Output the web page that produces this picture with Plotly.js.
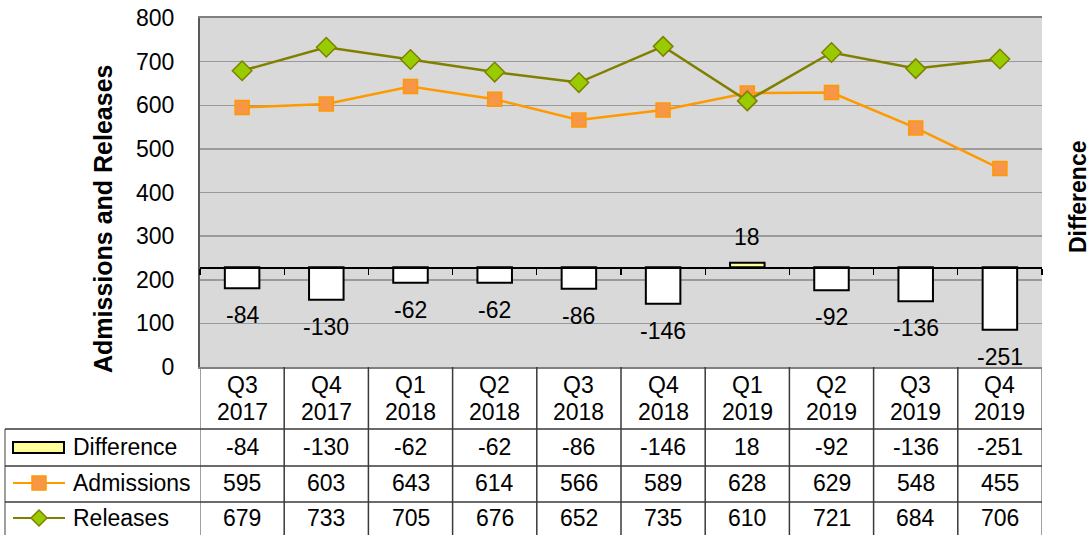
<!DOCTYPE html>
<html>
<head>
<meta charset="utf-8">
<script src="https://cdn.plot.ly/plotly-3.0.1.min.js"></script>
<style>html,body{margin:0;padding:0;background:#fff;}#chart{width:1092px;height:535px;}</style>
</head>
<body>
<div id="chart"></div>
<script>
const categories = ['Q3 2017','Q4 2017','Q1 2018','Q2 2018','Q3 2018','Q4 2018','Q1 2019','Q2 2019','Q3 2019','Q4 2019'];
const difference = [-84,-130,-62,-62,-86,-146,18,-92,-136,-251];
const admissions = [595,603,643,614,566,589,628,629,548,455];
const releases = [679,733,705,676,652,735,610,721,684,706];
const seriesNames = ['Difference','Admissions','Releases'];

const W = 1092, H = 535, L = 200, R = 50, T = 18, B = 168;
const PW = W - L - R, PH = H - T - B;
const px = x => (x - L) / PW;
const py = y => (H - B - y) / PH;
const FONT = 'Liberation Sans, Arial, sans-serif';
const FS = 23;

const traces = [
  {
    type: 'bar', name: seriesNames[0], x: categories, y: difference,
    xaxis: 'x2', yaxis: 'y2', width: 0.41,
    marker: {color: difference.map(v => v >= 0 ? '#FFFF99' : '#FFFFFF'), line: {color: '#000000', width: 2}},
    hoverinfo: 'skip'
  },
  {
    type: 'scatter', mode: 'lines+markers', name: seriesNames[1], x: categories, y: admissions,
    xaxis: 'x', yaxis: 'y',
    line: {color: '#FF9900', width: 2.5},
    marker: {symbol: 'square', size: 14, color: '#F79646', line: {color: '#FF9900', width: 1.5}}
  },
  {
    type: 'scatter', mode: 'lines+markers', name: seriesNames[2], x: categories, y: releases,
    xaxis: 'x', yaxis: 'y',
    line: {color: '#808000', width: 2.5},
    marker: {symbol: 'diamond', size: 15, color: '#99CC00', line: {color: '#808000', width: 1.5}}
  }
];

const annotations = [];
// bar labels
difference.forEach((v, i) => {
  annotations.push({
    x: categories[i], y: v, xref: 'x2', yref: 'y2', text: String(v), showarrow: false,
    yshift: v >= 0 ? 26 : -27, yanchor: 'middle', font: {family: FONT, size: FS, color: '#000'}
  });
});
// table header
categories.forEach((c, i) => {
  const parts = c.split(' ');
  annotations.push({x: i, y: py(385), xref: 'x', yref: 'paper', text: parts[0], showarrow: false, yanchor: 'middle', font: {family: FONT, size: FS, color: '#000'}});
  annotations.push({x: i, y: py(412), xref: 'x', yref: 'paper', text: parts[1], showarrow: false, yanchor: 'middle', font: {family: FONT, size: FS, color: '#000'}});
});
// table values
const rows = [difference, admissions, releases];
const rowY = [447, 483, 518];
rows.forEach((arr, r) => {
  arr.forEach((v, i) => {
    annotations.push({x: i, y: py(rowY[r]), xref: 'x', yref: 'paper', text: String(v), showarrow: false, yanchor: 'middle', font: {family: FONT, size: FS, color: '#000'}});
  });
  annotations.push({x: px(71), y: py(rowY[r]), xref: 'paper', yref: 'paper', text: seriesNames[r], showarrow: false, xanchor: 'left', yanchor: 'middle', font: {family: FONT, size: FS, color: '#000'}});
});
// axis titles
annotations.push({x: px(103), y: py(219), xref: 'paper', yref: 'paper', text: '<b>Admissions and Releases</b>', textangle: -90, showarrow: false, xanchor: 'center', yanchor: 'middle', font: {family: FONT, size: 25, color: '#000'}});
annotations.push({x: px(1078), y: py(197), xref: 'paper', yref: 'paper', text: '<b>Difference</b>', textangle: -90, showarrow: false, xanchor: 'center', yanchor: 'middle', font: {family: FONT, size: FS, color: '#000'}});

const shapes = [];
const lineC = '#3a3a3a';
// table vertical lines at category boundaries
for (let i = 0; i <= categories.length; i++) {
  shapes.push({type: 'line', xref: 'x', yref: 'paper', x0: i - 0.5, x1: i - 0.5, y0: py(367), y1: py(536), line: {color: i === 0 || i === categories.length ? '#808080' : lineC, width: 1.5}});
}
shapes.push({type: 'line', xref: 'paper', yref: 'paper', x0: px(5), x1: px(5), y0: py(429), y1: py(536), line: {color: '#808080', width: 1.5}});
[429, 466, 502].forEach(y => {
  shapes.push({type: 'line', xref: 'paper', yref: 'paper', x0: px(5), x1: 1, y0: py(y), y1: py(y), line: {color: lineC, width: 1.5}});
});
// legend icons
shapes.push({type: 'rect', xref: 'paper', yref: 'paper', x0: px(13), x1: px(64), y0: py(442), y1: py(453), fillcolor: '#FFFF99', line: {color: '#000', width: 2}});
shapes.push({type: 'line', xref: 'paper', yref: 'paper', x0: px(13), x1: px(65), y0: py(483), y1: py(483), line: {color: '#FF9900', width: 2}});
shapes.push({type: 'rect', xref: 'paper', yref: 'paper', x0: px(32), x1: px(46), y0: py(476), y1: py(490), fillcolor: '#F79646', line: {color: '#FF9900', width: 1.5}});
shapes.push({type: 'line', xref: 'paper', yref: 'paper', x0: px(13), x1: px(65), y0: py(518), y1: py(518), line: {color: '#808000', width: 2}});
shapes.push({type: 'path', xref: 'paper', yref: 'paper',
  path: `M ${px(39)} ${py(510)} L ${px(47)} ${py(518)} L ${px(39)} ${py(526)} L ${px(31)} ${py(518)} Z`,
  fillcolor: '#99CC00', line: {color: '#808000', width: 1.5}});

const layout = {
  width: W, height: H,
  margin: {l: L, r: R, t: T, b: B, pad: 0},
  paper_bgcolor: '#FFFFFF', plot_bgcolor: '#D9D9D9',
  font: {family: FONT, size: FS, color: '#000'},
  showlegend: false,
  xaxis: {
    type: 'category', categoryarray: categories, range: [-0.5, categories.length - 0.5],
    showticklabels: false, ticks: '', showgrid: false, zeroline: false,
    showline: true, mirror: true, linecolor: '#808080', linewidth: 2, fixedrange: true
  },
  xaxis2: {
    type: 'category', categoryarray: categories, overlaying: 'x', anchor: 'free', position: 400 / 1400,
    range: [-0.5, categories.length - 0.5],
    tickson: 'boundaries',
    ticks: 'outside', ticklen: 6, tickwidth: 1.2, tickcolor: '#000',
    showticklabels: false, showgrid: false, zeroline: false,
    showline: true, linecolor: '#000', linewidth: 1.5, fixedrange: true
  },
  yaxis: {
    range: [0, 800], dtick: 100, tick0: 0,
    showgrid: true, gridcolor: '#9a9a9a', gridwidth: 1.5,
    zeroline: false, showline: true, linecolor: '#595959', linewidth: 2,
    ticks: '', ticklabelstandoff: 19,
    tickfont: {family: FONT, size: FS, color: '#000'}, fixedrange: true
  },
  yaxis2: {
    overlaying: 'y', side: 'right', range: [-400, 1000],
    showgrid: false, zeroline: false, showticklabels: false, ticks: '', showline: false, fixedrange: true
  },
  annotations: annotations,
  shapes: shapes
};

Plotly.newPlot('chart', traces, layout, {staticPlot: true, displayModeBar: false});
</script>
</body>
</html>
